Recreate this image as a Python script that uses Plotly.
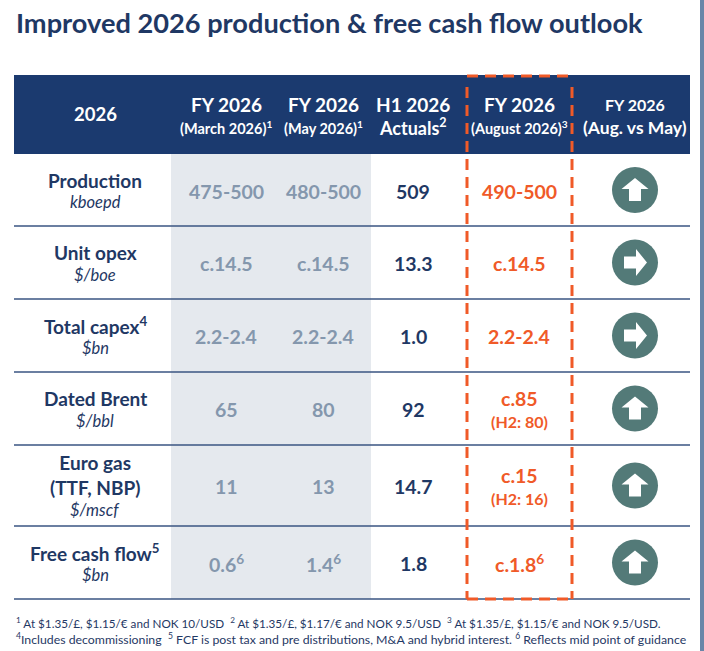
import plotly.graph_objects as go

# ---- table content ----
title = "Improved 2026 production & free cash flow outlook"

header_top = ["2026", "FY 2026", "FY 2026", "H1 2026", "FY 2026", "FY 2026"]
header_sub = ["", "(March 2026)<sup>1</sup>", "(May 2026)<sup>1</sup>", "Actuals<sup>2</sup>",
              "(August 2026)<sup>3</sup>", "(Aug. vs May)"]

metrics = ["Production", "Unit opex", "Total capex<sup>4</sup>", "Dated Brent",
           "Euro gas<br>(TTF, NBP)", "Free cash flow<sup>5</sup>"]
units = ["kboepd", "$/boe", "$bn", "$/bbl", "$/mscf", "$bn"]

march = ["475-500", "c.14.5", "2.2-2.4", "65", "11", "0.6<sup>6</sup>"]
may = ["480-500", "c.14.5", "2.2-2.4", "80", "13", "1.4<sup>6</sup>"]
h1_actuals = ["509", "13.3", "1.0", "92", "14.7", "1.8"]
august = ["490-500", "c.14.5", "2.2-2.4", "c.85", "c.15", "c.1.8<sup>6</sup>"]
august_h2 = ["", "", "", "(H2: 80)", "(H2: 16)", ""]
change = ["up", "right", "right", "up", "up", "up"]

footnotes = [
    "<sup>1</sup> At $1.35/£, $1.15/€ and NOK 10/USD  <sup>2</sup> At $1.35/£, $1.17/€ and NOK 9.5/USD  "
    "<sup>3</sup> At $1.35/£, $1.15/€ and NOK 9.5/USD.",
    "<sup>4</sup>Includes decommissioning  <sup>5</sup> FCF is post tax and pre distributions, M&A and "
    "hybrid interest. <sup>6</sup> Reflects mid point of guidance",
]

# ---- layout geometry (pixels, y from top) ----
W, H = 704, 651
FONT = "Lato"
NAVY = "#1b3a6f"
TEXT_NAVY = "#1f3864"
GREY = "#8497ad"
ORANGE = "#f05a28"
TEAL = "#537a78"

col_x = [95, 226, 323, 413, 519, 635]
row_edges = [154, 226, 299, 372, 445, 526, 599]
row_mid = [(a + b) / 2 for a, b in zip(row_edges[:-1], row_edges[1:])]

fig = go.Figure()
shapes = []
ann = []

# background pieces
shapes.append(dict(type="rect", x0=700, x1=704, y0=0, y1=H, fillcolor="#6a86a8", line_width=0, layer="below"))
shapes.append(dict(type="rect", x0=14, x1=690, y0=75, y1=154, fillcolor=NAVY, line_width=0, layer="below"))
shapes.append(dict(type="rect", x0=171, x1=371, y0=154, y1=599, fillcolor="#e5e9ee", line_width=0, layer="below"))
for y in row_edges[1:]:
    shapes.append(dict(type="line", x0=14, x1=690, y0=y, y1=y, line=dict(color="#3a5582", width=1.5)))

# dashed highlight around the August column
dash = dict(color=ORANGE, width=3, dash="11px,7px")
shapes.append(dict(type="line", x0=467, x1=572, y0=76, y1=76, line=dash))
shapes.append(dict(type="line", x0=467, x1=572, y0=599, y1=599, line=dash))
shapes.append(dict(type="line", x0=467, x1=467, y0=87, y1=599, line=dash))
shapes.append(dict(type="line", x0=572, x1=572, y0=87, y1=599, line=dash))

# title
ann.append(dict(x=14, y=22, text="<b>%s</b>" % title, xanchor="left",
                font=dict(family=FONT, size=27.2, color=TEXT_NAVY)))

# header
for i, (t, s) in enumerate(zip(header_top, header_sub)):
    if s == "":
        ann.append(dict(x=col_x[i], y=114, text="<b>%s</b>" % t,
                        font=dict(family=FONT, size=18.5, color="white")))
        continue
    top_size = 16 if i == 5 else 19
    sub_size = {3: 18, 5: 17.5}.get(i, 14.5)
    ann.append(dict(x=col_x[i], y=104, text="<b>%s</b>" % t,
                    font=dict(family=FONT, size=top_size, color="white")))
    ann.append(dict(x=col_x[i], y=127, text="<b>%s</b>" % s,
                    font=dict(family=FONT, size=sub_size, color="white")))

# metric labels
for i, (m, u) in enumerate(zip(metrics, units)):
    n = m.count("<br>") + 1
    ann.append(dict(x=col_x[0], y=row_mid[i] - 10 - (n - 1), text="<b>%s</b>" % m,
                    font=dict(family=FONT, size=19, color=TEXT_NAVY)))
    ann.append(dict(x=col_x[0], y=row_mid[i] + 12 + (n - 1) * 12.5, text="<i>%s</i>" % u,
                    font=dict(family=FONT, size=16.5, color=TEXT_NAVY)))

# value columns
for col, vals, color in [(1, march, GREY), (2, may, GREY), (3, h1_actuals, TEXT_NAVY)]:
    for i, v in enumerate(vals):
        ann.append(dict(x=col_x[col], y=row_mid[i] + 1, text="<b>%s</b>" % v,
                        font=dict(family=FONT, size=19.5, color=color)))
for i, (v, h2) in enumerate(zip(august, august_h2)):
    if h2:
        ann.append(dict(x=col_x[4], y=row_mid[i] - 10, text="<b>%s</b>" % v,
                        font=dict(family=FONT, size=19.5, color=ORANGE)))
        ann.append(dict(x=col_x[4], y=row_mid[i] + 13, text="<b>%s</b>" % h2,
                        font=dict(family=FONT, size=16, color=ORANGE)))
    else:
        ann.append(dict(x=col_x[4], y=row_mid[i] + 1, text="<b>%s</b>" % v,
                        font=dict(family=FONT, size=19.5, color=ORANGE)))

# direction circles
fig.add_trace(go.Scatter(x=[col_x[5]] * len(change), y=row_mid, mode="markers",
                         marker=dict(size=46, color=TEAL, line_width=0),
                         hoverinfo="skip", showlegend=False))

# white block arrows inside the circles
arrow_up = [(0, 12), (13.5, 1), (6, 1), (6, -11), (-6, -11), (-6, 1), (-13.5, 1)]
for d, cy in zip(change, row_mid):
    pts = arrow_up if d == "up" else [(y, -x) for x, y in arrow_up]
    path = "M " + " L ".join("%.1f,%.1f" % (col_x[5] + px, cy - py) for px, py in pts) + " Z"
    shapes.append(dict(type="path", path=path, fillcolor="white", line_width=0))

# footnotes
for k, f in enumerate(footnotes):
    ann.append(dict(x=14, y=622 + k * 17, text=f, xanchor="left",
                    font=dict(family=FONT, size=[11.7, 12.3][k], color=TEXT_NAVY)))

for a in ann:
    a.setdefault("xanchor", "center")
    a.setdefault("yanchor", "middle")
    a.update(xref="x", yref="y", showarrow=False)

fig.update_layout(
    width=W, height=H,
    margin=dict(l=0, r=0, t=0, b=0),
    paper_bgcolor="white", plot_bgcolor="white",
    xaxis=dict(range=[0, W], visible=False, fixedrange=True),
    yaxis=dict(range=[H, 0], visible=False, fixedrange=True),
    shapes=shapes, annotations=ann,
)

fig.write_html("out.html", config={"displayModeBar": False},
               post_script="document.body.style.margin='0';")
